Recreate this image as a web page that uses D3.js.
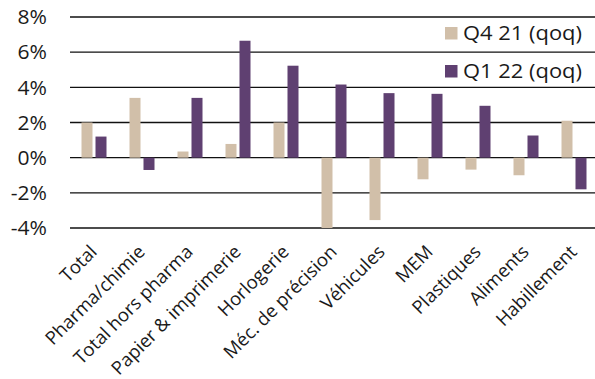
<!DOCTYPE html>
<html>
<head>
<meta charset="utf-8">
<script src="https://cdn.jsdelivr.net/npm/d3@7"></script>
<style>
  html, body { margin: 0; padding: 0; background: #fff; }
  svg { display: block; }
  text { font-family: "Open Sans", sans-serif; fill: #1a1a1a; }
</style>
</head>
<body>
<svg id="chart" width="595" height="379"></svg>
<script>
// Export growth by sector, quarter on quarter (%)
const categories = ["Total", "Pharma/chimie", "Total hors pharma", "Papier & imprimerie",
  "Horlogerie", "Méc. de précision", "Véhicules", "MEM", "Plastiques", "Aliments", "Habillement"];
const seriesNames = ["Q4 21 (qoq)", "Q1 22 (qoq)"];
const q4_21 = [2.0, 3.4, 0.35, 0.78, 2.0, -4.0, -3.55, -1.23, -0.68, -1.0, 2.1];
const q1_22 = [1.2, -0.7, 3.4, 6.65, 5.23, 4.16, 3.67, 3.63, 2.95, 1.26, -1.8];
const yTicks = [-4, -2, 0, 2, 4, 6, 8];
const colors = ["#d1bfa9", "#5f4071"];

const svg = d3.select("#chart");
const margin = { left: 70, right: -3, top: 17, bottom: 151 };
const W = 595, H = 379;

const x0 = d3.scaleBand().domain(categories).range([margin.left, W - margin.right]).padding(0);
const y = d3.scaleLinear().domain([-4, 8]).range([H - margin.bottom, margin.top]);

// Horizontal gridlines
svg.append("g").selectAll("line").data(yTicks).join("line")
  .attr("x1", margin.left).attr("x2", W)
  .attr("y1", d => y(d)).attr("y2", d => y(d))
  .attr("stroke", "#111").attr("stroke-width", 1.4);

// Y axis labels (slightly widened lettering)
const yAxis = d3.axisLeft(y).tickValues(yTicks).tickFormat(d => d + "%").tickSize(0).tickPadding(0);
const ya = svg.append("g").attr("transform", `translate(${margin.left - 23},0)`).call(yAxis);
ya.select(".domain").remove();
ya.selectAll("text").attr("font-size", 19.5).attr("font-family", "Open Sans, sans-serif")
  .attr("fill", "#1a1a1a").attr("dy", "0.35em")
  .attr("transform", "scale(1.08,1)");

// Bars
const barW = 11, gap = 3;
const series = [q4_21, q1_22];
series.forEach((vals, si) => {
  svg.append("g").selectAll("rect").data(vals).join("rect")
    .attr("x", (d, i) => x0(categories[i]) + x0.bandwidth() / 2 + (si === 0 ? -(barW + gap / 2) : gap / 2))
    .attr("width", barW)
    .attr("y", d => y(Math.max(0, d)))
    .attr("height", d => Math.abs(y(d) - y(0)))
    .attr("fill", colors[si]);
});

// Category labels, rotated
svg.append("g").selectAll("text").data(categories).join("text")
  .attr("transform", d => `translate(${x0(d) + x0.bandwidth() / 2 + 4},${y(-4) + 25}) rotate(-45)`)
  .attr("text-anchor", "end")
  .attr("font-size", 18.5)
  .text(d => d);

// Legend
const legend = svg.append("g").selectAll("g").data(seriesNames).join("g")
  .attr("transform", (d, i) => `translate(445,${33 + i * 38})`);
legend.append("rect").attr("x", 0).attr("y", -6).attr("width", 12.5).attr("height", 12.5)
  .attr("fill", (d, i) => colors[i]);
legend.append("text").attr("x", 18).attr("dy", "0.35em").attr("font-size", 20)
  .attr("textLength", 119).attr("lengthAdjust", "spacingAndGlyphs").text(d => d);
</script>
</body>
</html>
